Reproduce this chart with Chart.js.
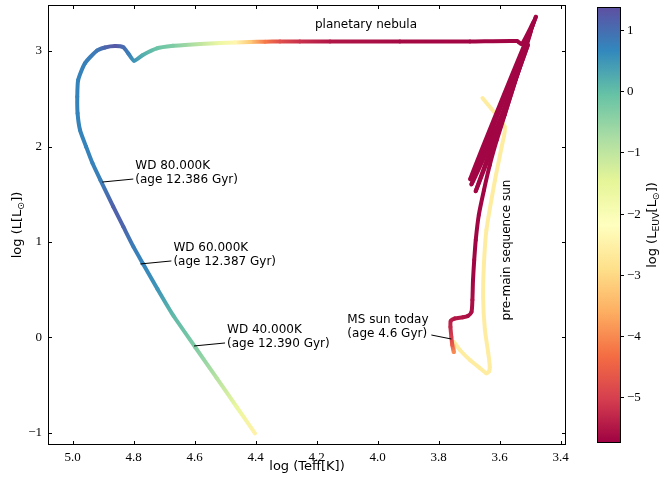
<!DOCTYPE html>
<html>
<head>
<meta charset="utf-8">
<script src="https://cdn.jsdelivr.net/npm/chart.js@4.4.0/dist/chart.umd.min.js"></script>
<style>
  html, body { margin: 0; padding: 0; background: #fff; }
</style>
</head>
<body>
<canvas id="c" width="660" height="481"></canvas>
<script>
// Track of the sun in the HR diagram (evolution order: pre-MS, MS, RGB, AGB, post-AGB, WD)
const logTeff = [
    3.656, 3.583, 3.593, 3.615, 3.643, 3.651, 3.654, 3.648, 3.637, 3.632, 3.634, 3.643, 3.665, 3.697, 3.730, 3.750,
    3.750, 3.755, 3.758, 3.761, 3.760, 3.747, 3.720, 3.704, 3.692, 3.689, 3.687, 3.683,
    3.678, 3.668, 3.651, 3.632, 3.609, 3.583, 3.556, 3.530, 3.507, 3.481,
    3.692, 3.599, 3.507, 3.678, 3.592, 3.497, 3.696, 3.602, 3.488, 3.527, 3.543,
    3.697, 3.927, 4.156, 4.255, 4.320, 4.369, 4.419, 4.468, 4.517, 4.582, 4.632, 4.671, 4.724, 4.770, 4.799,
    4.818, 4.834, 4.861, 4.894, 4.921, 4.960, 4.982, 4.985, 4.984, 4.976, 4.956, 4.935, 4.909,
    4.867, 4.834, 4.801, 4.769, 4.722, 4.670, 4.599, 4.528, 4.462, 4.402
];
const logL = [
    2.508, 2.207, 1.998, 1.649, 1.126, 0.780, 0.427, 0.079, -0.162, -0.306, -0.351, -0.375, -0.319, -0.236, -0.131, -0.047,
    -0.152, -0.079, 0.005, 0.110, 0.173, 0.199, 0.211, 0.225, 0.267, 0.393, 0.602, 0.812,
    1.021, 1.283, 1.545, 1.806, 2.068, 2.330, 2.613, 2.885, 3.136, 3.356,
    1.607, 2.257, 3.063, 1.534, 2.257, 3.220, 1.660, 2.257, 3.304, 3.073, 3.105,
    3.099, 3.100, 3.100, 3.100, 3.100, 3.098, 3.094, 3.089, 3.084, 3.073, 3.063, 3.055, 3.028, 2.958, 2.898,
    2.976, 3.039, 3.052, 3.037, 3.003, 2.871, 2.696, 2.521, 2.348, 2.173, 1.998, 1.824, 1.649,
    1.370, 1.160, 0.951, 0.770, 0.508, 0.230, -0.097, -0.424, -0.728, -1.005
];
const logLeuv = [
    -2.6, -2.6, -2.6, -2.6, -2.6, -2.6, -2.6, -2.6, -2.6, -2.6, -2.6, -2.6, -2.6, -2.6, -2.6, -2.6,
    -4.0, -4.6, -5.0, -5.3, -5.4, -5.5, -5.5, -5.6, -5.6, -5.6, -5.7, -5.7,
    -5.7, -5.7, -5.7, -5.7, -5.7, -5.7, -5.7, -5.7, -5.7, -5.7,
    -5.7, -5.7, -5.7, -5.7, -5.7, -5.7, -5.7, -5.7, -5.7, -5.7, -5.7,
    -5.7, -5.65, -5.5, -5.2, -4.8, -4.2, -3.2, -2.4, -1.7, -1.0, -0.6, -0.3, -0.1, 0.2, 0.5,
    0.8, 1.0, 1.25, 1.1, 0.85, 0.75, 0.72, 0.72, 0.72, 0.72, 0.72, 0.74, 0.78,
    1.15, 1.1, 0.8, 0.7, 0.5, 0.05, -0.3, -0.9, -1.6, -2.5
];

const xTicks = [5.0, 4.8, 4.6, 4.4, 4.2, 4.0, 3.8, 3.6, 3.4];
const yTicks = [-1, 0, 1, 2, 3];
const cbTicks = [1, 0, -1, -2, -3, -4, -5];
const cbMin = -5.75;
const cbMax = 1.376;

// annotations
const noteTeff = [4.903, 4.778, 4.602];
const noteL = [1.628, 0.770, -0.089];
const noteText = [
    ['WD 80.000K', '(age 12.386 Gyr)'],
    ['WD 60.000K', '(age 12.387 Gyr)'],
    ['WD 40.000K', '(age 12.390 Gyr)']
];
const msTeff = 3.758;
const msL = -0.016;
const msText = ['MS sun today', '(age 4.6 Gyr)'];

// Spectral colormap
const SPECTRAL = ['#9e0142', '#d53e4f', '#f46d43', '#fdae61', '#fee08b', '#ffffbf',
                  '#e6f598', '#abdda4', '#66c2a5', '#3288bd', '#5e4fa2'];
const SPEC_RGB = SPECTRAL.map(h => [1, 3, 5].map(i => parseInt(h.substr(i, 2), 16)));

function cmap(v) {
    let t = (v - cbMin) / (cbMax - cbMin);
    t = Math.max(0, Math.min(1, t));
    const f = t * 10;
    const i = Math.min(9, Math.floor(f));
    const r = f - i;
    const a = SPEC_RGB[i], b = SPEC_RGB[i + 1];
    return 'rgb(' + a.map((c, k) => Math.round(c + (b[k] - c) * r)).join(',') + ')';
}

const canvas = document.getElementById('c');
const g2d = canvas.getContext('2d');

const SANS = '"DejaVu Sans"';
const SERIF = '"Liberation Serif"';

function minus(v) {
    return v < 0 ? '\u2212' + Math.abs(v) : String(v);
}

// text with subscripts, centered on (cx, cy)
function richText(ctx, parts, cx, cy, size, rot) {
    ctx.save();
    ctx.translate(cx, cy);
    if (rot) ctx.rotate(rot);
    const fonts = parts.map(p => (p[1] ? size * 0.72 : size) + 'px ' + SANS);
    let w = 0;
    const widths = parts.map((p, i) => {
        ctx.font = fonts[i];
        const m = ctx.measureText(p[0]).width;
        w += m;
        return m;
    });
    let x = -w / 2;
    ctx.textAlign = 'left';
    ctx.textBaseline = 'alphabetic';
    ctx.fillStyle = '#000';
    parts.forEach((p, i) => {
        ctx.font = fonts[i];
        ctx.fillText(p[0], x, size * 0.36 + (p[1] ? size * 0.25 : 0));
        x += widths[i];
    });
    ctx.restore();
}

const decorations = {
    id: 'decorations',
    afterDraw(chart) {
        const ctx = chart.ctx;
        const a = chart.chartArea;
        const x = chart.scales.x;
        const y = chart.scales.y;
        ctx.save();

        // frame + inward ticks
        ctx.strokeStyle = '#000';
        ctx.lineWidth = 1;
        ctx.strokeRect(a.left + 0.5, a.top + 0.5, a.right - a.left - 1, a.bottom - a.top - 1);
        ctx.beginPath();
        xTicks.forEach(v => {
            const px = Math.round(x.getPixelForValue(v)) + 0.5;
            ctx.moveTo(px, a.bottom); ctx.lineTo(px, a.bottom - 4);
            ctx.moveTo(px, a.top); ctx.lineTo(px, a.top + 4);
        });
        yTicks.forEach(v => {
            const py = Math.round(y.getPixelForValue(v)) + 0.5;
            ctx.moveTo(a.left, py); ctx.lineTo(a.left + 4, py);
            ctx.moveTo(a.right, py); ctx.lineTo(a.right - 4, py);
        });
        ctx.stroke();

        // annotations
        ctx.font = '12px ' + SANS;
        ctx.fillStyle = '#000';
        ctx.textAlign = 'left';
        ctx.textBaseline = 'middle';
        noteText.forEach((lines, i) => {
            const ax = x.getPixelForValue(noteTeff[i]);
            const ay = y.getPixelForValue(noteL[i]);
            ctx.beginPath();
            ctx.moveTo(ax, ay);
            ctx.lineTo(ax + 31, ay - 3);
            ctx.stroke();
            ctx.fillText(lines[0], ax + 33, ay - 16.4);
            ctx.fillText(lines[1], ax + 33, ay - 2);
        });
        const mx = x.getPixelForValue(msTeff);
        const my = y.getPixelForValue(msL);
        ctx.beginPath();
        ctx.moveTo(mx - 20, my - 4);
        ctx.lineTo(mx, my);
        ctx.stroke();
        ctx.fillText(msText[0], mx - 104, my - 19.4);
        ctx.fillText(msText[1], mx - 104, my - 5);

        ctx.textAlign = 'center';
        ctx.fillText('planetary nebula', x.getPixelForValue(4.038), y.getPixelForValue(3.272));

        ctx.save();
        ctx.translate(x.getPixelForValue(3.576), y.getPixelForValue(0.916));
        ctx.rotate(-Math.PI / 2);
        ctx.fillText('pre-main sequence sun', 0, 0);
        ctx.restore();

        // axis titles
        ctx.font = '13px ' + SANS;
        ctx.fillText('log (Teff[K])', (a.left + a.right) / 2, 467);
        richText(ctx, [['log (L[L', 0], ['\u2299', 1], ['])', 0]], 16, (a.top + a.bottom) / 2, 13, -Math.PI / 2);

        // colorbar
        const cbL = 597, cbR = 621, cbT = 7, cbB = 443;
        const grad = ctx.createLinearGradient(0, cbT, 0, cbB);
        SPECTRAL.forEach((c, i) => grad.addColorStop(1 - i / 10, c));
        ctx.fillStyle = grad;
        ctx.fillRect(cbL, cbT, cbR - cbL, cbB - cbT);
        ctx.strokeStyle = '#000';
        ctx.strokeRect(cbL + 0.5, cbT + 0.5, cbR - cbL - 1, cbB - cbT - 1);
        ctx.font = '13px ' + SERIF;
        ctx.fillStyle = '#000';
        ctx.textAlign = 'left';
        ctx.textBaseline = 'middle';
        ctx.beginPath();
        cbTicks.forEach(v => {
            const py = Math.round(cbT + (cbMax - v) / (cbMax - cbMin) * (cbB - cbT)) + 0.5;
            ctx.moveTo(cbR, py); ctx.lineTo(cbR + 3, py);
            ctx.fillText(minus(v), cbR + 6, py);
        });
        ctx.stroke();
        richText(ctx, [['log (L', 0], ['EUV', 1], ['[L', 0], ['\u2299', 1], ['])', 0]],
                 651, (cbT + cbB) / 2, 13, -Math.PI / 2);

        ctx.restore();
    }
};

new Chart(canvas, {
    type: 'scatter',
    data: {
        datasets: [{
            data: logTeff.map((t, i) => ({ x: t, y: logL[i] })),
            showLine: true,
            pointRadius: 0,
            borderWidth: 4,
            tension: 0.2,
            borderCapStyle: 'round',
            borderJoinStyle: 'round',
            borderColor: cmap(logLeuv[0]),
            segment: {
                borderColor: s => {
                    const g = g2d.createLinearGradient(s.p0.x, s.p0.y, s.p1.x, s.p1.y);
                    g.addColorStop(0, cmap(logLeuv[s.p0DataIndex]));
                    g.addColorStop(1, cmap(logLeuv[s.p1DataIndex]));
                    g._id = s.p0DataIndex;
                    return g;
                }
            }
        }]
    },
    options: {
        responsive: false,
        devicePixelRatio: 1,
        animation: false,
        layout: { padding: { top: 5, right: 94, left: 0, bottom: 0 } },
        plugins: {
            legend: { display: false },
            tooltip: { enabled: false }
        },
        scales: {
            x: {
                type: 'linear',
                min: 3.382,
                max: 5.081,
                reverse: true,
                afterBuildTicks: s => { s.ticks = xTicks.map(v => ({ value: v })); },
                afterFit: s => { s.height = 36; s.paddingLeft = 0; s.paddingRight = 0; },
                grid: { display: false, drawTicks: false },
                border: { display: false },
                ticks: {
                    autoSkip: false,
                    maxRotation: 0,
                    padding: 5,
                    color: '#000',
                    font: { family: 'Liberation Serif', size: 13 },
                    callback: v => v.toFixed(1)
                }
            },
            y: {
                type: 'linear',
                min: -1.126,
                max: 3.482,
                afterBuildTicks: s => { s.ticks = yTicks.map(v => ({ value: v })); },
                afterFit: s => { s.width = 48; s.paddingTop = 0; s.paddingBottom = 0; },
                grid: { display: false, drawTicks: false },
                border: { display: false },
                ticks: {
                    autoSkip: false,
                    padding: 6,
                    color: '#000',
                    font: { family: 'Liberation Serif', size: 13 },
                    callback: v => minus(v)
                }
            }
        }
    },
    plugins: [decorations]
});
</script>
</body>
</html>
